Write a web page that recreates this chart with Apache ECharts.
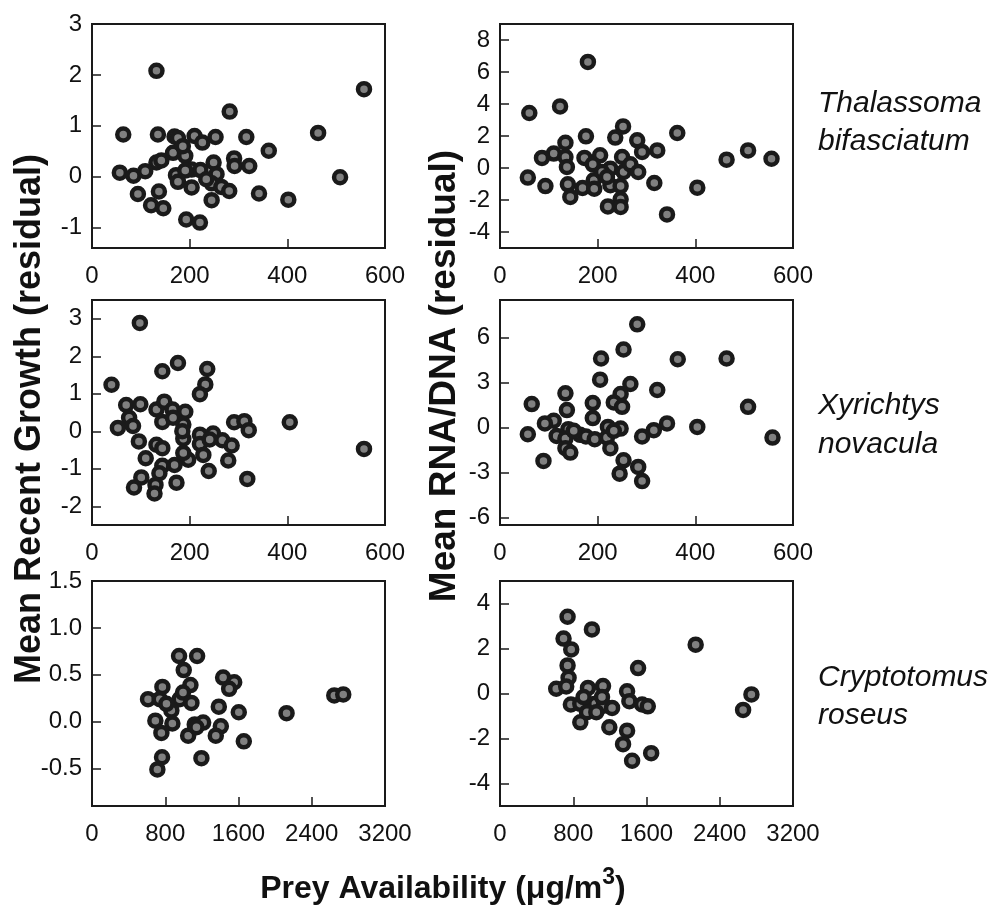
<!DOCTYPE html>
<html>
<head>
<meta charset="utf-8">
<script src="https://cdn.jsdelivr.net/npm/echarts@6/dist/echarts.min.js"></script>
<style>
html,body{margin:0;padding:0;background:#fff;}
#chart{width:1000px;height:909px;}
</style>
</head>
<body>
<div id="chart"></div>
<script>
// ---- Data ----
var thalGrowthX = [132,557,282,64,135,169,176,210,226,253,316,463,362,166,191,132,249,291,292,322,57,85,109,172,176,204,222,255,204,245,265,281,245,94,137,121,146,342,402,508,193,221,234,191,142,186];
var thalGrowthY = [2.08,1.72,1.28,0.83,0.83,0.79,0.76,0.80,0.67,0.78,0.78,0.86,0.51,0.47,0.41,0.28,0.28,0.36,0.21,0.21,0.08,0.02,0.11,0.03,-0.10,0.14,0.13,0.05,-0.21,-0.13,-0.20,-0.28,-0.46,-0.34,-0.29,-0.56,-0.62,-0.33,-0.45,-0.01,-0.84,-0.90,-0.05,0.12,0.32,0.60];

var thalRnaX = [180,123,60,252,363,236,176,281,134,322,291,508,110,86,134,173,205,250,464,556,57,137,190,226,253,267,283,192,226,247,93,139,169,193,316,404,144,247,221,247,342,209,219];
var thalRnaY = [6.63,3.85,3.44,2.6,2.19,1.9,1.98,1.73,1.58,1.1,1.0,1.1,0.9,0.63,0.69,0.63,0.79,0.69,0.52,0.58,-0.6,0.06,0.23,-0.04,-0.25,0.23,-0.25,-0.77,-1.08,-1.13,-1.13,-1.02,-1.25,-1.29,-0.94,-1.23,-1.81,-1.96,-2.4,-2.44,-2.9,-0.25,-0.56];

var xyrGrowthX = [98,176,144,236,232,221,40,70,99,132,148,165,191,76,53,84,144,166,187,291,312,321,405,557,96,132,144,187,185,221,248,267,286,221,228,197,279,110,169,144,138,101,239,318,173,86,130,128,187,241];
var xyrGrowthY = [2.89,1.82,1.6,1.66,1.25,0.99,1.24,0.7,0.72,0.58,0.79,0.58,0.52,0.36,0.09,0.14,0.25,0.36,0.18,0.24,0.27,0.03,0.24,-0.47,-0.27,-0.36,-0.45,-0.2,0.0,-0.09,-0.06,-0.24,-0.38,-0.34,-0.63,-0.76,-0.78,-0.72,-0.9,-0.92,-1.12,-1.23,-1.06,-1.27,-1.37,-1.5,-1.43,-1.66,-0.58,-0.22];

var xyrRnaX = [281,253,207,364,464,205,267,322,134,247,233,190,250,65,137,508,190,110,92,342,221,247,404,315,140,57,116,134,164,176,194,291,558,219,226,134,144,89,253,283,245,291,233,151];
var xyrRnaY = [6.88,5.2,4.6,4.55,4.6,3.19,2.9,2.5,2.28,2.23,1.67,1.63,1.38,1.56,1.16,1.38,0.63,0.45,0.27,0.27,0.04,-0.07,0.04,-0.18,-0.11,-0.45,-0.56,-0.74,-0.49,-0.6,-0.78,-0.6,-0.67,-0.67,-1.38,-1.38,-1.67,-2.23,-2.19,-2.63,-3.08,-3.57,-0.22,-0.22];

var cryGrowthX = [951,1148,1002,1432,1553,1498,769,1075,612,740,958,994,1086,867,1385,1603,2125,2646,2744,692,878,1122,1214,1407,758,1050,1352,1658,1195,765,714,1141,813];
var cryGrowthY = [0.70,0.70,0.55,0.47,0.42,0.35,0.37,0.39,0.24,0.24,0.24,0.31,0.20,0.12,0.16,0.10,0.09,0.28,0.29,0.01,-0.02,-0.03,-0.01,-0.05,-0.12,-0.15,-0.15,-0.21,-0.39,-0.38,-0.51,-0.06,0.19];

var cryRnaX = [738,1004,694,778,738,749,2137,1508,614,723,961,1125,1388,774,877,1041,1132,1224,1413,1552,1614,877,950,1052,1194,1388,1344,1443,1651,2655,2746,913,1114];
var cryRnaY = [3.41,2.85,2.44,1.96,1.25,0.70,2.17,1.13,0.21,0.31,0.25,0.33,0.10,-0.49,-0.46,-0.46,-0.54,-0.64,-0.34,-0.49,-0.57,-1.28,-0.83,-0.83,-1.5,-1.65,-2.25,-2.99,-2.65,-0.73,-0.04,-0.16,-0.16];

// tick labels / axis ranges
var xTicksSmall = [0,200,400,600];
var xTicksLarge = [0,800,1600,2400,3200];
var yTicksThalGrowth = [-1,0,1,2,3];
var yTicksThalRna = [-4,-2,0,2,4,6,8];
var yTicksXyrGrowth = [-2,-1,0,1,2,3];
var yTicksXyrRna = [-6,-3,0,3,6];
var yTicksCryGrowth = [-0.5,0,0.5,1,1.5];
var yTicksCryRna = [-4,-2,0,2,4];

var speciesLines = [["Thalassoma","bifasciatum"],["Xyrichtys","novacula"],["Cryptotomus","roseus"]];
var yTitleLeft = "Mean Recent Growth (residual)";
var yTitleRight = "Mean RNA/DNA (residual)";

// ---- Build chart ----
var FONT = "'Liberation Sans', Arial, sans-serif";
var DARK = '#1a1a1a';

var panels = [
  {x: thalGrowthX, y: thalGrowthY, xmax: 600, xint: 200, ymin: -1.4, ymax: 3, yt: yTicksThalGrowth, dec: 0},
  {x: thalRnaX, y: thalRnaY, xmax: 600, xint: 200, ymin: -5, ymax: 9, yt: yTicksThalRna, dec: 0},
  {x: xyrGrowthX, y: xyrGrowthY, xmax: 600, xint: 200, ymin: -2.5, ymax: 3.5, yt: yTicksXyrGrowth, dec: 0},
  {x: xyrRnaX, y: xyrRnaY, xmax: 600, xint: 200, ymin: -6.5, ymax: 8.5, yt: yTicksXyrRna, dec: 0},
  {x: cryGrowthX, y: cryGrowthY, xmax: 3200, xint: 800, ymin: -0.9, ymax: 1.5, yt: yTicksCryGrowth, dec: 1},
  {x: cryRnaX, y: cryRnaY, xmax: 3200, xint: 800, ymin: -5, ymax: 5, yt: yTicksCryRna, dec: 0}
];
var colLeft = [92, 500];
var plotW = 293;
var rowTop = [24, 300, 581];
var rowH = [224, 225, 225];

var grids = [], xAxes = [], yAxes = [], series = [];
panels.forEach(function(p, i){
  var col = i % 2, row = Math.floor(i / 2);
  grids.push({left: colLeft[col], top: rowTop[row], width: plotW, height: rowH[row],
    show: true, borderColor: DARK, borderWidth: 2, backgroundColor: 'transparent'});
  var xt = (p.xmax === 600) ? xTicksSmall : xTicksLarge;
  xAxes.push({type: 'value', gridIndex: i, min: 0, max: p.xmax, interval: p.xint,
    axisLine: {show: true, onZero: false, lineStyle: {color: DARK, width: 2}},
    axisTick: {show: true, inside: true, length: 9, lineStyle: {color: DARK, width: 1.5}, customValues: xt},
    axisLabel: {show: true, margin: 16, color: '#111', fontSize: 24, fontFamily: FONT, customValues: xt,
      formatter: function(v){ return String(Math.round(v)); }},
    splitLine: {show: false}});
  yAxes.push({type: 'value', gridIndex: i, min: p.ymin, max: p.ymax,
    axisLine: {show: true, onZero: false, lineStyle: {color: DARK, width: 2}},
    axisTick: {show: true, inside: true, length: 9, lineStyle: {color: DARK, width: 1.5}, customValues: p.yt},
    axisLabel: {show: true, margin: 10, color: '#111', fontSize: 24, fontFamily: FONT, customValues: p.yt,
      formatter: (function(d){ return function(v){ return v.toFixed(d); }; })(p.dec)},
    splitLine: {show: false}});
  var data = p.x.map(function(xv, k){ return [xv, p.y[k]]; });
  series.push({type: 'scatter', xAxisIndex: i, yAxisIndex: i, data: data,
    symbol: 'circle', symbolSize: 12,
    itemStyle: {color: '#808080', borderColor: DARK, borderWidth: 4.5, opacity: 1},
    emphasis: {disabled: true}, animation: false});
});

var graphics = [
  {type: 'text', x: 30, y: 419, rotation: Math.PI/2,
   style: {text: yTitleLeft, font: 'bold 36px ' + FONT, fill: '#111', align: 'center', verticalAlign: 'middle'}},
  {type: 'text', x: 445, y: 376, rotation: Math.PI/2,
   style: {text: yTitleRight, font: 'bold 37px ' + FONT, fill: '#111', align: 'center', verticalAlign: 'middle'}},
  {type: 'text', x: 443, y: 886,
   style: {text: '{t|Prey Availability (\u03bcg/m}{s|3}{t|)}', align: 'center', verticalAlign: 'middle',
     rich: {t: {font: 'bold 32px ' + FONT, fill: '#111', verticalAlign: 'bottom'},
            s: {font: 'bold 23px ' + FONT, fill: '#111', verticalAlign: 'top', padding: [0,0,16,0]}}}}
];
var speciesY = [[104, 142], [406, 445], [678, 716]];
speciesLines.forEach(function(lines, r){
  lines.forEach(function(t, j){
    graphics.push({type: 'text', x: 818, y: speciesY[r][j],
      style: {text: t, font: 'italic 30px ' + FONT, fill: '#111', align: 'left', verticalAlign: 'middle'}});
  });
});

var chart = echarts.init(document.getElementById('chart'), null, {renderer: 'canvas'});
chart.setOption({
  animation: false,
  backgroundColor: '#fff',
  grid: grids, xAxis: xAxes, yAxis: yAxes, series: series,
  graphic: graphics
});
</script>
</body>
</html>
